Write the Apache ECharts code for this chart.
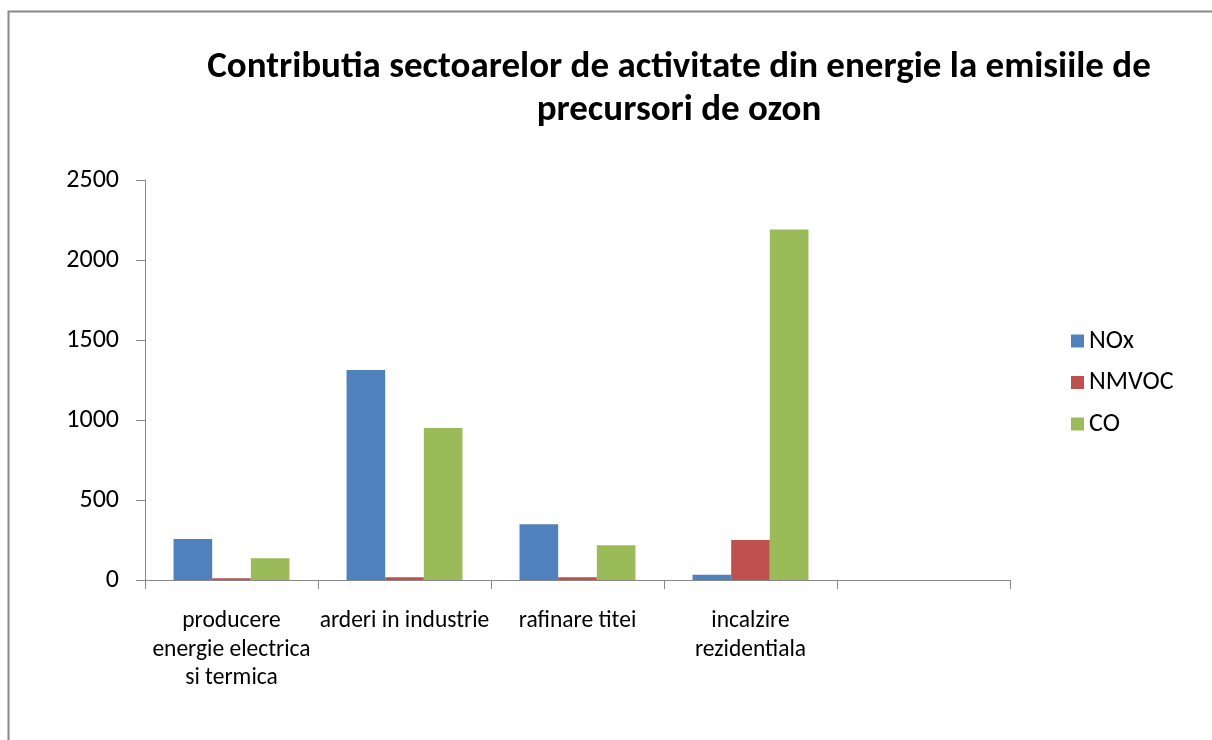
<!DOCTYPE html>
<html>
<head>
<meta charset="utf-8">
<script src="https://cdn.jsdelivr.net/npm/echarts@6/dist/echarts.min.js"></script>
<style>
  html, body { margin: 0; padding: 0; background: #fff; }
  #chart { width: 1212px; height: 740px; }
</style>
</head>
<body>
<div id="chart"></div>
<script>
// date
var categories = ['producere\nenergie electrica\nsi termica', 'arderi in industrie', 'rafinare titei', 'incalzire\nrezidentiala', ''];
var nox = [256, 1313, 348, 33, null];
var nmvoc = [11, 17, 17, 250, null];
var co = [136, 950, 217, 2190, null];

var myChart = echarts.init(document.getElementById('chart'));
var font = 'Carlito, "Open Sans", "Liberation Sans", sans-serif';

var option = {
    animation: false,
    textStyle: { fontFamily: font },
    title: {
        text: 'Contributia sectoarelor de activitate din energie la emisiile de\nprecursori de ozon',
        left: 674,
        top: 41,
        textAlign: 'center',
        textStyle: { fontSize: 37, fontWeight: 'bold', color: '#000', lineHeight: 43, fontFamily: font }
    },
    graphic: [{
        type: 'rect',
        shape: { x: 8.5, y: 11.5, width: 1220, height: 760 },
        style: { fill: 'none', stroke: '#888', lineWidth: 2 }
    }],
    legend: {
        orient: 'vertical',
        left: 1066,
        top: 323,
        itemWidth: 13,
        itemHeight: 13,
        itemGap: 15.5,
        icon: 'rect',
        textStyle: { fontSize: 26, lineHeight: 26, color: '#000', fontFamily: font },
        data: ['NOx', 'NMVOC', 'CO']
    },
    grid: { left: 145, right: 202, top: 180, bottom: 160, containLabel: false },
    xAxis: {
        type: 'category',
        data: categories,
        axisLine: { lineStyle: { color: '#888', width: 1 } },
        axisTick: { show: true, length: 9, lineStyle: { color: '#888' } },
        axisLabel: { fontSize: 23.5, color: '#000', lineHeight: 28.5, margin: 27, interval: 0 }
    },
    yAxis: {
        type: 'value',
        min: 0,
        max: 2500,
        interval: 500,
        splitLine: { show: false },
        axisLine: { show: true, lineStyle: { color: '#888', width: 1 } },
        axisTick: { show: true, length: 9, lineStyle: { color: '#888' } },
        axisLabel: { fontSize: 26, color: '#000', margin: 26, formatter: function (v) { return String(v); } }
    },
    series: [
        { name: 'NOx', type: 'bar', data: nox, barGap: '0%', barCategoryGap: '33%', itemStyle: { color: '#4F81BD' } },
        { name: 'NMVOC', type: 'bar', data: nmvoc, itemStyle: { color: '#C0504D' } },
        { name: 'CO', type: 'bar', data: co, itemStyle: { color: '#9BBB59' } }
    ]
};

myChart.setOption(option);

window.addEventListener('resize', function() {
    myChart.resize();
});
</script>
</body>
</html>
